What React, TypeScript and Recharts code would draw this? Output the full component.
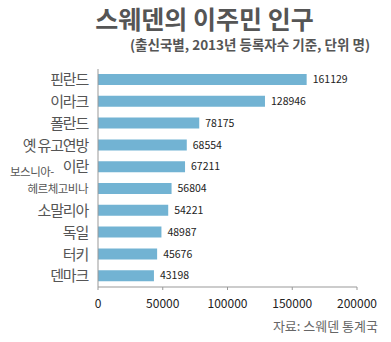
import React from 'react';
import { BarChart, Bar, XAxis, YAxis, LabelList } from 'recharts';

const categories = ['핀란드', '이라크', '폴란드', '옛 유고연방', '이란', '보스니아-헤르체고비나', '소말리아', '독일', '터키', '덴마크'];
const values = [161129, 128946, 78175, 68554, 67211, 56804, 54221, 48987, 45676, 43198];
const xTicks = [0, 50000, 100000, 150000, 200000];

const data = categories.map((name, i) => ({ name, value: values[i] }));

const FONT = '"Noto Sans CJK KR", "Noto Sans", sans-serif';

const CategoryTick = (props: any) => {
  const { x, y, payload } = props;
  const label: string = payload.value;
  if (label.includes('-')) {
    const idx = label.indexOf('-');
    const a = label.slice(0, idx + 1);
    const b = label.slice(idx + 1);
    return (
      <g>
        <text x={10} y={y - 17} dy="0.35em" textAnchor="start" fontSize={11.5} fill="#555" fontFamily={FONT} letterSpacing={-0.5}>{a}</text>
        <text x={x - 2} y={y} dy="0.35em" textAnchor="end" fontSize={11.5} fill="#555" fontFamily={FONT} letterSpacing={-0.5}>{b}</text>
      </g>
    );
  }
  return (
    <text x={x - 2} y={y} dy="0.35em" textAnchor="end" fontSize={15} fill="#555" fontFamily={FONT} letterSpacing={-1.2}>{label}</text>
  );
};

export default function App() {
  return (
    <div style={{ position: 'absolute', left: 0, top: 0, width: 391, height: 342, background: '#fff', fontFamily: FONT }}>
      <div style={{ position: 'absolute', left: 0, width: 391, top: 3, textAlign: 'center', paddingLeft: 18, boxSizing: 'border-box', fontSize: 25, fontWeight: 700, color: '#555', lineHeight: '30px' }}>
        스웨덴의 이주민 인구
      </div>
      <div style={{ position: 'absolute', right: 21, top: 36, fontSize: 13.5, fontWeight: 700, color: '#555', lineHeight: '16px', whiteSpace: 'nowrap' }}>
        (출신국별, 2013년 등록자수 기준, 단위 명)
      </div>
      <BarChart
        width={391}
        height={342}
        data={data}
        layout="vertical"
        margin={{ top: 69, right: 34, bottom: 35, left: 8 }}
      >
        <XAxis
          type="number"
          domain={[0, 200000]}
          ticks={xTicks}
          interval={0}
          height={20}
          axisLine={{ stroke: '#999' }}
          tickLine={{ stroke: '#999' }}
          tickSize={3}
          tickMargin={9}
          tick={{ fill: '#222', fontSize: 12, fontFamily: FONT }}
        />
        <YAxis
          type="category"
          dataKey="name"
          width={90}
          axisLine={{ stroke: '#999' }}
          tickLine={false}
          interval={0}
          tick={<CategoryTick />}
        />
        <Bar dataKey="value" fill="#72b3d3" barSize={11} isAnimationActive={false}>
          <LabelList dataKey="value" position="right" offset={6} fill="#222" fontSize={10.5} fontFamily={FONT} />
        </Bar>
      </BarChart>
      <div style={{ position: 'absolute', right: 13, top: 317, fontSize: 13, color: '#666', lineHeight: '18px', whiteSpace: 'nowrap' }}>
        자료: 스웨덴 통계국
      </div>
    </div>
  );
}
